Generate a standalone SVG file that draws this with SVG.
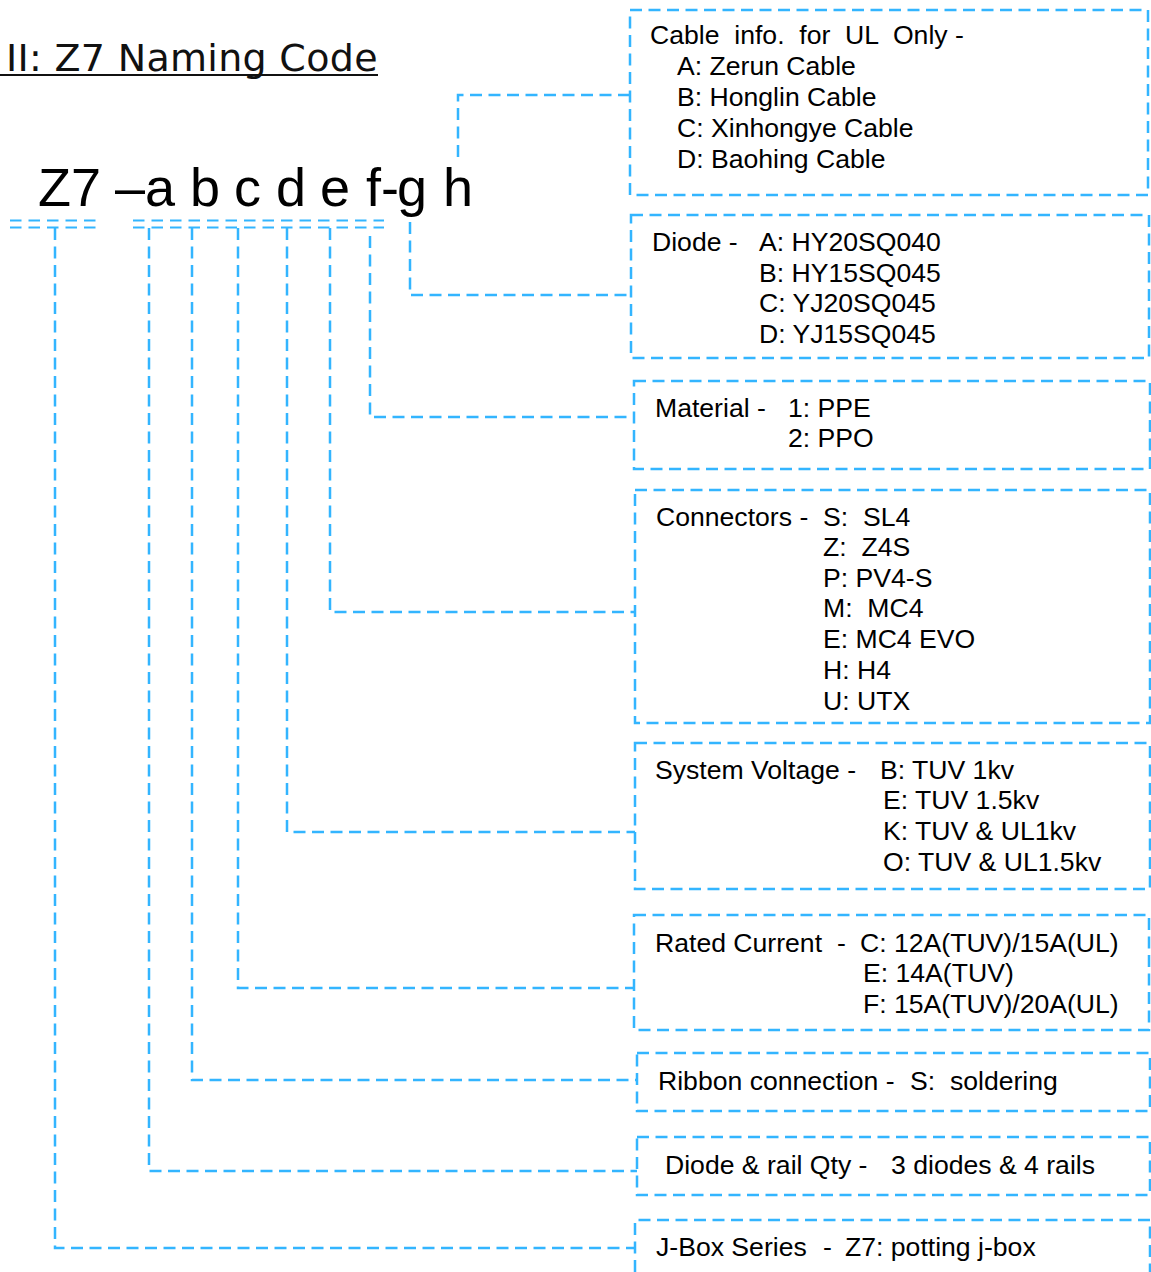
<svg xmlns="http://www.w3.org/2000/svg" width="1151" height="1272" viewBox="0 0 1151 1272">
<style>
.d{fill:none;stroke:#33B5FF;stroke-width:2.5;stroke-dasharray:12 6.5}
.u{fill:none;stroke:#33B5FF;stroke-width:2.2;stroke-dasharray:11.5 7}
.t{font-family:"Liberation Sans",Arial,sans-serif;font-size:26.6px;fill:#000;white-space:pre}
.big{font-family:"Liberation Sans",Arial,sans-serif;font-size:54px;fill:#000}
.title{font-family:"DejaVu Sans",Verdana,sans-serif;font-size:38px;letter-spacing:0.3px;fill:#111}
</style>
<rect width="1151" height="1272" fill="#fff"/>
<g id="title">
<text class="title" x="6" y="71">II: Z7 Naming Code</text>
<line x1="0" y1="75" x2="378" y2="75" stroke="#111" stroke-width="2"/>
</g>
<g id="code">
<text class="big" y="206"><tspan x="38">Z7</tspan><tspan x="115">–</tspan><tspan x="145">a</tspan><tspan x="190">b</tspan><tspan x="234">c</tspan><tspan x="276">d</tspan><tspan x="320">e</tspan><tspan x="366">f</tspan><tspan x="381">-</tspan><tspan x="397">g</tspan><tspan x="443">h</tspan></text>
<path class="u" d="M10 220.5H97M10 227.5H97M133 220.5H384M133 227.5H384"/>
</g>
<g id="connectors">
<path class="d" d="M55 228V1248H635"/>
<path class="d" d="M149 228V1171H637"/>
<path class="d" d="M192 228V1080H637"/>
<path class="d" d="M238 228V988H634"/>
<path class="d" d="M287 228V832H635"/>
<path class="d" d="M330 228V612H635"/>
<path class="d" d="M370 236V417H634"/>
<path class="d" d="M410 222V295H631"/>
<path class="d" d="M458 157V95H635"/>
</g>
<g id="box-cable">
<rect class="d" x="630" y="10" width="518" height="185"/>
<text class="t" x="650" y="44">Cable  info.  for  UL  Only -</text>
<text class="t" x="677" y="75">A: Zerun Cable</text>
<text class="t" x="677" y="106">B: Honglin Cable</text>
<text class="t" x="677" y="137">C: Xinhongye Cable</text>
<text class="t" x="677" y="168">D: Baohing Cable</text>
</g>
<g id="box-diode">
<rect class="d" x="631" y="215" width="518" height="143"/>
<text class="t" x="652" y="251">Diode -</text>
<text class="t" x="759" y="251">A: HY20SQ040</text>
<text class="t" x="759" y="282">B: HY15SQ045</text>
<text class="t" x="759" y="312">C: YJ20SQ045</text>
<text class="t" x="759" y="343">D: YJ15SQ045</text>
</g>
<g id="box-material">
<rect class="d" x="634" y="381" width="516" height="88"/>
<text class="t" x="655" y="417">Material -</text>
<text class="t" x="788" y="417">1: PPE</text>
<text class="t" x="788" y="447">2: PPO</text>
</g>
<g id="box-connectors">
<rect class="d" x="635" y="490" width="515" height="233"/>
<text class="t" x="656" y="526">Connectors -</text>
<text class="t" x="823" y="526">S:  SL4</text>
<text class="t" x="823" y="556">Z:  Z4S</text>
<text class="t" x="823" y="587">P: PV4-S</text>
<text class="t" x="823" y="617">M:  MC4</text>
<text class="t" x="823" y="648">E: MC4 EVO</text>
<text class="t" x="823" y="679">H: H4</text>
<text class="t" x="823" y="710">U: UTX</text>
</g>
<g id="box-voltage">
<rect class="d" x="635" y="743" width="515" height="146"/>
<text class="t" x="655" y="779">System Voltage -</text>
<text class="t" x="880" y="779">B: TUV 1kv</text>
<text class="t" x="883" y="809">E: TUV 1.5kv</text>
<text class="t" x="883" y="840">K: TUV &amp; UL1kv</text>
<text class="t" x="883" y="871">O: TUV &amp; UL1.5kv</text>
</g>
<g id="box-current">
<rect class="d" x="634" y="915" width="515" height="115"/>
<text class="t" x="655" y="952">Rated Current</text>
<text class="t" x="837" y="952">-</text>
<text class="t" x="860" y="952">C: 12A(TUV)/15A(UL)</text>
<text class="t" x="863" y="982">E: 14A(TUV)</text>
<text class="t" x="863" y="1013">F: 15A(TUV)/20A(UL)</text>
</g>
<g id="box-ribbon">
<rect class="d" x="637" y="1053" width="513" height="58"/>
<text class="t" x="658" y="1090">Ribbon connection -</text>
<text class="t" x="910" y="1090">S:  soldering</text>
</g>
<g id="box-qty">
<rect class="d" x="637" y="1137" width="513" height="58"/>
<text class="t" x="665" y="1174">Diode &amp; rail Qty -</text>
<text class="t" x="891" y="1174">3 diodes &amp; 4 rails</text>
</g>
<g id="box-series">
<path class="d" d="M635 1272V1220H1150V1272"/>
<text class="t" x="656" y="1256">J-Box Series</text>
<text class="t" x="823" y="1256">-</text>
<text class="t" x="845" y="1256">Z7: potting j-box</text>
</g>
</svg>
